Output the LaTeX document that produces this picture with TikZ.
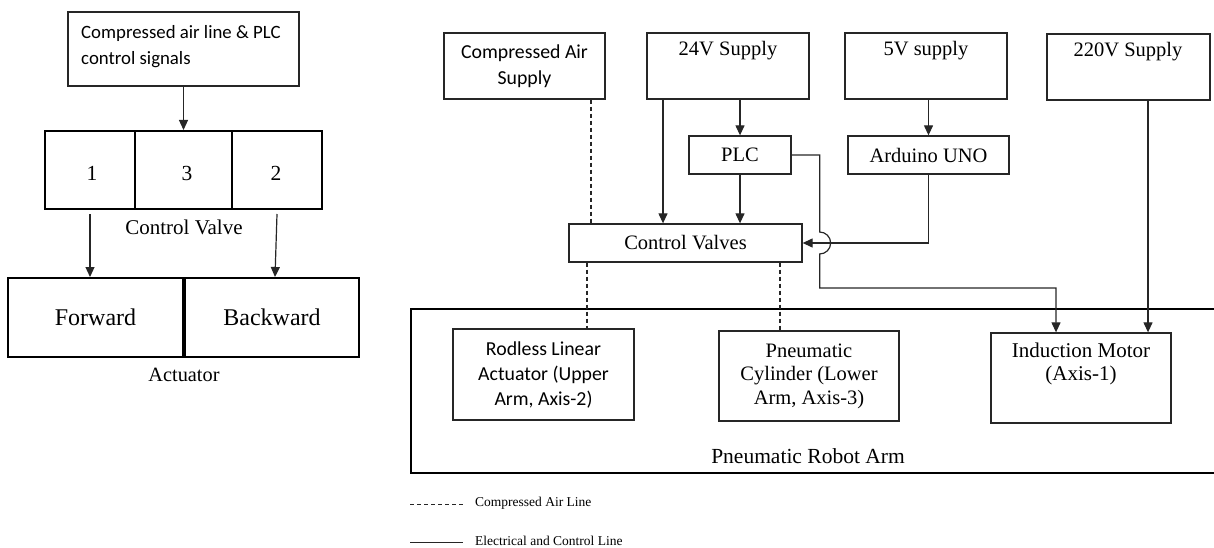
\documentclass[tikz,border=0pt]{standalone}
\usepackage{fontspec}
\setmainfont{Liberation Serif}
\newfontfamily\carl{Carlito}
\usetikzlibrary{arrows.meta,calc}
\begin{document}
\begin{tikzpicture}[x=1pt,y=-1pt,
  bx/.style={draw=black!85, line width=1.3pt, inner sep=0pt, align=center},
  thk/.style={draw=black, line width=2pt, inner sep=0pt, align=center},
  wh/.style 2 args={minimum width=#1pt, minimum height=#2pt},
  arr/.style={draw=black!85, line width=1.2pt, -{Triangle[length=10pt,width=9pt]}},
  ln/.style={draw=black!85, line width=1.2pt},
  air/.style={draw=black!85, line width=1.1pt, dash pattern=on 4pt off 3pt},
  tx/.style={inner sep=0pt, align=center},
  sf/.style={font=\carl\fontsize{19.8}{26}\selectfont},
  rm/.style={font=\fontsize{20.5}{23}\selectfont},
]
\useasboundingbox (0,0) rectangle (1214,548);

% ---------- left diagram ----------
\node[bx, wh={231}{74}] (sig) at (183.5,49) {};
\node[tx, anchor=west, align=left, font=\carl\fontsize{18.8}{26}\selectfont] (sigt) at (81,47) {Compressed air line \& PLC\\control signals};

\node[thk, wh={90}{78}] (v1) at (90,170) {};
\node[thk, wh={97}{78}] (v3) at (183.5,170) {};
\node[thk, wh={90}{78}] (v2) at (277,170) {};
\node[tx, font=\fontsize{21.5}{24}\selectfont] (n1) at (92,173) {1};
\node[tx, font=\fontsize{21.5}{24}\selectfont] (n3) at (187,173) {3};
\node[tx, font=\fontsize{21.5}{24}\selectfont] (n2) at (276,173) {2};
\node[tx, font=\fontsize{21}{24}\selectfont] (cvl) at (184,227) {Control Valve};

\node[thk, wh={175}{79}, font=\fontsize{24}{28}\selectfont] (fwd) at (95.5,317.5) {Forward};
\node[thk, wh={174}{79}, font=\fontsize{24}{28}\selectfont] (bwd) at (272,317.5) {Backward};
\node[tx, font=\fontsize{20.3}{24}\selectfont] (act) at (184,375) {Actuator};

\draw[arr] (sig.south) -- (v3.north);
\draw[arr] ([yshift=-4pt]v1.south) -- (v1.south |- fwd.north);
\draw[arr] ([yshift=-4pt]v2.south) -- ([xshift=-2pt]v2.south |- bwd.north);

% ---------- right diagram ----------
\node[bx, wh={161}{66}, sf] (cas) at (524.5,66) {Compressed Air\\Supply};
\node[bx, wh={162}{66}] (s24) at (728,66) {};
\node[tx, rm] (s24t) at (728,51) {24V Supply};
\node[bx, wh={162}{66}] (s5) at (926,66) {};
\node[tx, rm] (s5t) at (926,51) {5V supply};
\node[bx, wh={163}{66}] (s220) at (1128.5,67) {};
\node[tx, rm] (s220t) at (1128,52) {220V Supply};

\node[bx, wh={102}{38}, rm] (plc) at (740,155) {PLC};
\node[bx, wh={161}{38}, rm] (ard) at (928.5,155) {Arduino UNO};
\node[bx, wh={233}{38}, rm] (cv) at (685.5,243) {Control Valves};

% robot arm enclosure (right side runs off the picture)
\coordinate (rtl) at (411,309);
\coordinate (rbl) at (411,473);
\draw[black, line width=2pt] (1216,309) -- (rtl) -- (rbl) -- (1216,473);
\node[tx, font=\fontsize{21.5}{24}\selectfont] (rat) at (808,456) {Pneumatic Robot Arm};

\node[bx, wh={181}{91}, font=\carl\fontsize{19.8}{25}\selectfont] (rla) at (543.5,374.5) {Rodless Linear\\Actuator (Upper\\Arm, Axis-2)};
\node[bx, wh={180}{90}, font=\fontsize{20.5}{23.5}\selectfont] (cyl) at (809,376) {Pneumatic\\Cylinder (Lower\\Arm, Axis-3)};
\node[bx, wh={180}{90}] (im) at (1081,378) {};
\node[tx, font=\fontsize{21}{22.5}\selectfont] (imt) at (1081,364) {Induction Motor\\(Axis-1)};

% air lines
\draw[air] ([xshift=66.5pt]cas.south) -- ([xshift=66.5pt]cas.south |- cv.north);
\draw[air] ([xshift=43.5pt]rla.north |- cv.south) -- ([xshift=43.5pt]rla.north);
\draw[air] ([xshift=-29pt]cyl.north |- cv.south) -- ([xshift=-29pt]cyl.north);

% electrical / control lines
\draw[arr] ([xshift=-65pt]s24.south) -- ([xshift=-65pt]s24.south |- cv.north);
\draw[arr] (s24.south -| plc.north) -- (plc.north);
\draw[arr] (plc.south) -- (plc.south |- cv.north);
\draw[arr] (s5.south -| ard.north) -- (ard.north);
\draw[arr] (ard.south) |- (cv.east);
\coordinate (pj) at ($(plc.east)+(28,0)$);
\coordinate (pd) at (pj |- 0,288);
\draw[arr] (plc.east) -- (pj) -- ($(pj |- cv.east)+(0,-11)$) arc[start angle=90, end angle=-90, radius=11pt]
  -- (pd) -- ([xshift=-25pt]im.north |- pd) -- ([xshift=-25pt]im.north);
\draw[arr] ([xshift=67pt]im.north |- s220.south) -- ([xshift=67pt]im.north);

% legend
\coordinate (la1) at (410,504); \coordinate (la2) at (463,504);
\coordinate (le1) at (410,542); \coordinate (le2) at (463,542);
\draw[air, line width=1pt] (la1) -- (la2);
\draw[ln, line width=1pt] (le1) -- (le2);
\node[tx, anchor=west, font=\fontsize{13.5}{15}\selectfont] (lat) at (475,503) {Compressed Air Line};
\node[tx, anchor=west, font=\fontsize{13.5}{15}\selectfont] (let) at (475,541) {Electrical and Control Line};
\end{tikzpicture}
\end{document}
